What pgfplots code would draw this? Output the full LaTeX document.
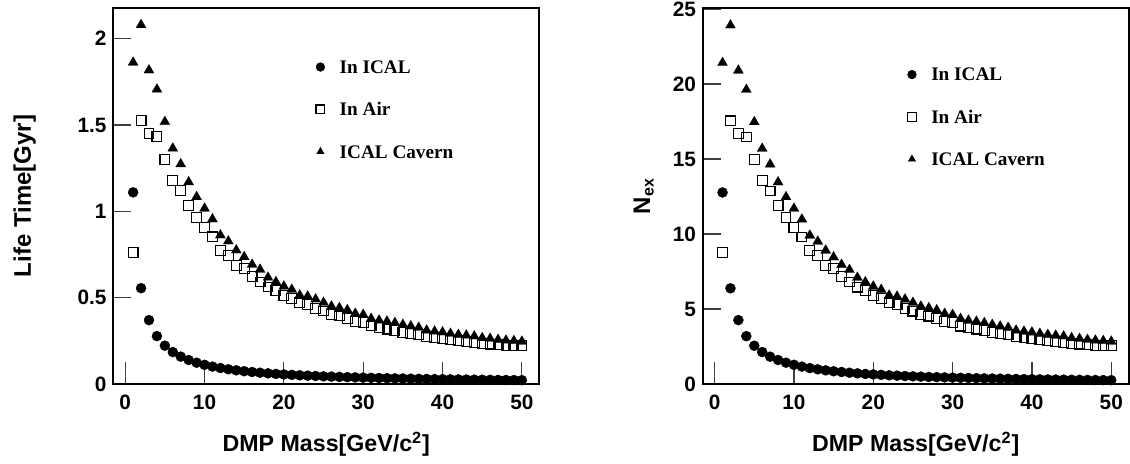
\documentclass[border=0pt]{standalone}
\usepackage{fontspec}
\setmainfont{Liberation Serif}
\newfontfamily\helv{Liberation Sans}
\usepackage{pgfplots}
\pgfplotsset{compat=1.18}
\usepackage{pgfplotstable}

% DMP lifetime (Gyr) versus mass
\pgfplotstableread{
m  ical    air    cav
1  1.110   0.763  1.863
2  0.555   1.525  2.080
3  0.370   1.452  1.818
4  0.2775  1.432  1.707
5  0.222   1.301  1.519
6  0.185   1.179  1.365
7  0.1586  1.119  1.274
8  0.1388  1.034  1.170
9  0.1233  0.966  1.084
10 0.111   0.907  1.017
11 0.1009  0.852  0.955
12 0.0925  0.775  0.862
13 0.0854  0.746  0.827
14 0.0793  0.688  0.775
15 0.0740  0.669  0.736
16 0.0694  0.624  0.692
17 0.0653  0.591  0.663
18 0.0617  0.562  0.617
19 0.0584  0.543  0.591
20 0.0555  0.514  0.566
21 0.0529  0.495  0.547
22 0.0505  0.470  0.514
23 0.0483  0.460  0.508
24 0.0463  0.437  0.491
25 0.0444  0.423  0.472
26 0.0427  0.404  0.450
27 0.0411  0.394  0.441
28 0.0396  0.381  0.429
29 0.0383  0.362  0.408
30 0.0370  0.356  0.402
31 0.0358  0.336  0.379
32 0.0347  0.327  0.369
33 0.0336  0.318  0.363
34 0.0326  0.311  0.354
35 0.0317  0.299  0.344
36 0.0308  0.292  0.335
37 0.0300  0.286  0.327
38 0.0292  0.274  0.311
39 0.0285  0.268  0.305
40 0.0278  0.261  0.300
41 0.0271  0.255  0.292
42 0.0264  0.250  0.286
43 0.0258  0.245  0.282
44 0.0252  0.240  0.277
45 0.0247  0.235  0.267
46 0.0241  0.231  0.263
47 0.0236  0.227  0.257
48 0.0231  0.224  0.253
49 0.0227  0.223  0.250
50 0.0222  0.223  0.247
}\lifetime

% expected number of events versus mass
\pgfplotstableread{
m  ical   air    cav
1  12.77  8.77   21.42
2  6.38   17.54  23.92
3  4.26   16.70  20.91
4  3.19   16.47  19.63
5  2.55   14.96  17.47
6  2.13   13.56  15.70
7  1.82   12.87  14.65
8  1.60   11.89  13.46
9  1.42   11.11  12.47
10 1.28   10.43  11.70
11 1.16   9.80   10.98
12 1.06   8.91   9.91
13 0.98   8.58   9.51
14 0.91   7.91   8.91
15 0.85   7.69   8.46
16 0.80   7.18   7.96
17 0.75   6.80   7.62
18 0.71   6.46   7.10
19 0.67   6.24   6.80
20 0.64   5.91   6.51
21 0.61   5.69   6.29
22 0.58   5.41   5.91
23 0.555  5.29   5.84
24 0.53   5.03   5.65
25 0.51   4.86   5.43
26 0.49   4.65   5.18
27 0.47   4.53   5.07
28 0.456  4.38   4.93
29 0.44   4.16   4.69
30 0.426  4.09   4.62
31 0.412  3.86   4.36
32 0.40   3.76   4.24
33 0.387  3.66   4.17
34 0.375  3.58   4.07
35 0.365  3.44   3.96
36 0.355  3.36   3.85
37 0.345  3.29   3.76
38 0.336  3.15   3.58
39 0.327  3.08   3.51
40 0.319  3.00   3.45
41 0.311  2.93   3.36
42 0.304  2.88   3.29
43 0.297  2.82   3.24
44 0.29   2.76   3.19
45 0.284  2.70   3.07
46 0.277  2.66   3.02
47 0.272  2.61   2.96
48 0.266  2.58   2.91
49 0.26   2.56   2.88
50 0.255  2.56   2.84
}\nexp

\pgfplotsset{
  rootframe/.style={
    scale only axis, width=213pt, height=188pt,
    axis line style={line width=1pt},
    tick pos=left,
    tick style={line width=0.6pt, black!75},
    major tick length=9pt,
    x tick style={/pgfplots/major tick length=10.8pt},
    xmin=-1.5, xmax=52.2, xtick={0,10,20,30,40,50},
    ymin=0, clip=false,
    /pgf/number format/assume math mode=true,
    ticklabel style={font=\helv\bfseries\fontsize{10.4}{12}\selectfont},
    xticklabel style={anchor=center, inner sep=0pt, yshift=-9.15pt},
    yticklabel style={anchor=east, inner sep=0pt, xshift=-3.2pt},
    label style={font=\helv\bfseries\fontsize{11.6}{13}\selectfont},
    xlabel style={at={(axis description cs:0.5,0)}, anchor=base, yshift=-34pt},
    legend style={draw=none, fill=none, inner sep=0pt, row sep=14.75pt,
      font=\bfseries\fontsize{9.6}{11}\selectfont,
      nodes={inner sep=0pt, text height=6.4pt, text depth=0pt, anchor=west},
      /tikz/every odd column/.append style={column sep=7.25pt}},
    legend image code/.code={%
      \path[draw=none, fill=none] (-2.4pt,-2.4pt) rectangle (2.4pt,2.4pt);
      \draw[mark size=2.2pt] plot coordinates {(0pt,0pt)};},
  },
  icalmark/.style={only marks, mark=*, mark size=2.5pt, black, mark options={draw=black, fill=black, line width=0.2pt}},
  airmark/.style={only marks, mark=square, mark size=2.45pt, black, mark options={line width=0.55pt}},
  cavmark/.style={only marks, mark=triangle*, mark size=2.9pt, black, mark options={line width=0.1pt}},
}

\begin{document}
\begin{tikzpicture}
\useasboundingbox (0,0) rectangle (565pt,232pt);

\begin{axis}[rootframe,
  at={(56.65pt,40pt)}, anchor=south west,
  ymax=2.178,
  ytick={0,0.5,1,1.5,2},
  yticklabels={0,0.5,1,1.5,2},
  xlabel={DMP Mass[GeV/c\textsuperscript{2}]},
  ylabel={Life Time[Gyr]},
  ylabel style={at={(axis description cs:-0.1932,0.5)}, anchor=base, font=\helv\bfseries\fontsize{12}{14}\selectfont},
  legend style={at={(axis description cs:0.474,0.861)}, anchor=north west},
]
\addplot[icalmark] table[x=m, y=ical] {\lifetime};
\addplot[airmark]  table[x=m, y=air]  {\lifetime};
\addplot[cavmark]  table[x=m, y=cav]  {\lifetime};
\legend{In ICAL, In Air, ICAL Cavern}
\end{axis}

\begin{axis}[rootframe,
  at={(351.35pt,40pt)}, anchor=south west,
  ymax=25.07,
  ytick={0,5,10,15,20,25},
  xlabel={DMP Mass[GeV/c\textsuperscript{2}]},
  ylabel={N\textsubscript{ex}},
  ylabel style={at={(axis description cs:-0.1235,0.5)}, anchor=base, font=\helv\bfseries\fontsize{12}{14}\selectfont},
  legend style={at={(axis description cs:0.479,0.841)}, anchor=north west},
]
\addplot[icalmark] table[x=m, y=ical] {\nexp};
\addplot[airmark]  table[x=m, y=air]  {\nexp};
\addplot[cavmark]  table[x=m, y=cav]  {\nexp};
\legend{In ICAL, In Air, ICAL Cavern}
\end{axis}
\end{tikzpicture}
\end{document}
